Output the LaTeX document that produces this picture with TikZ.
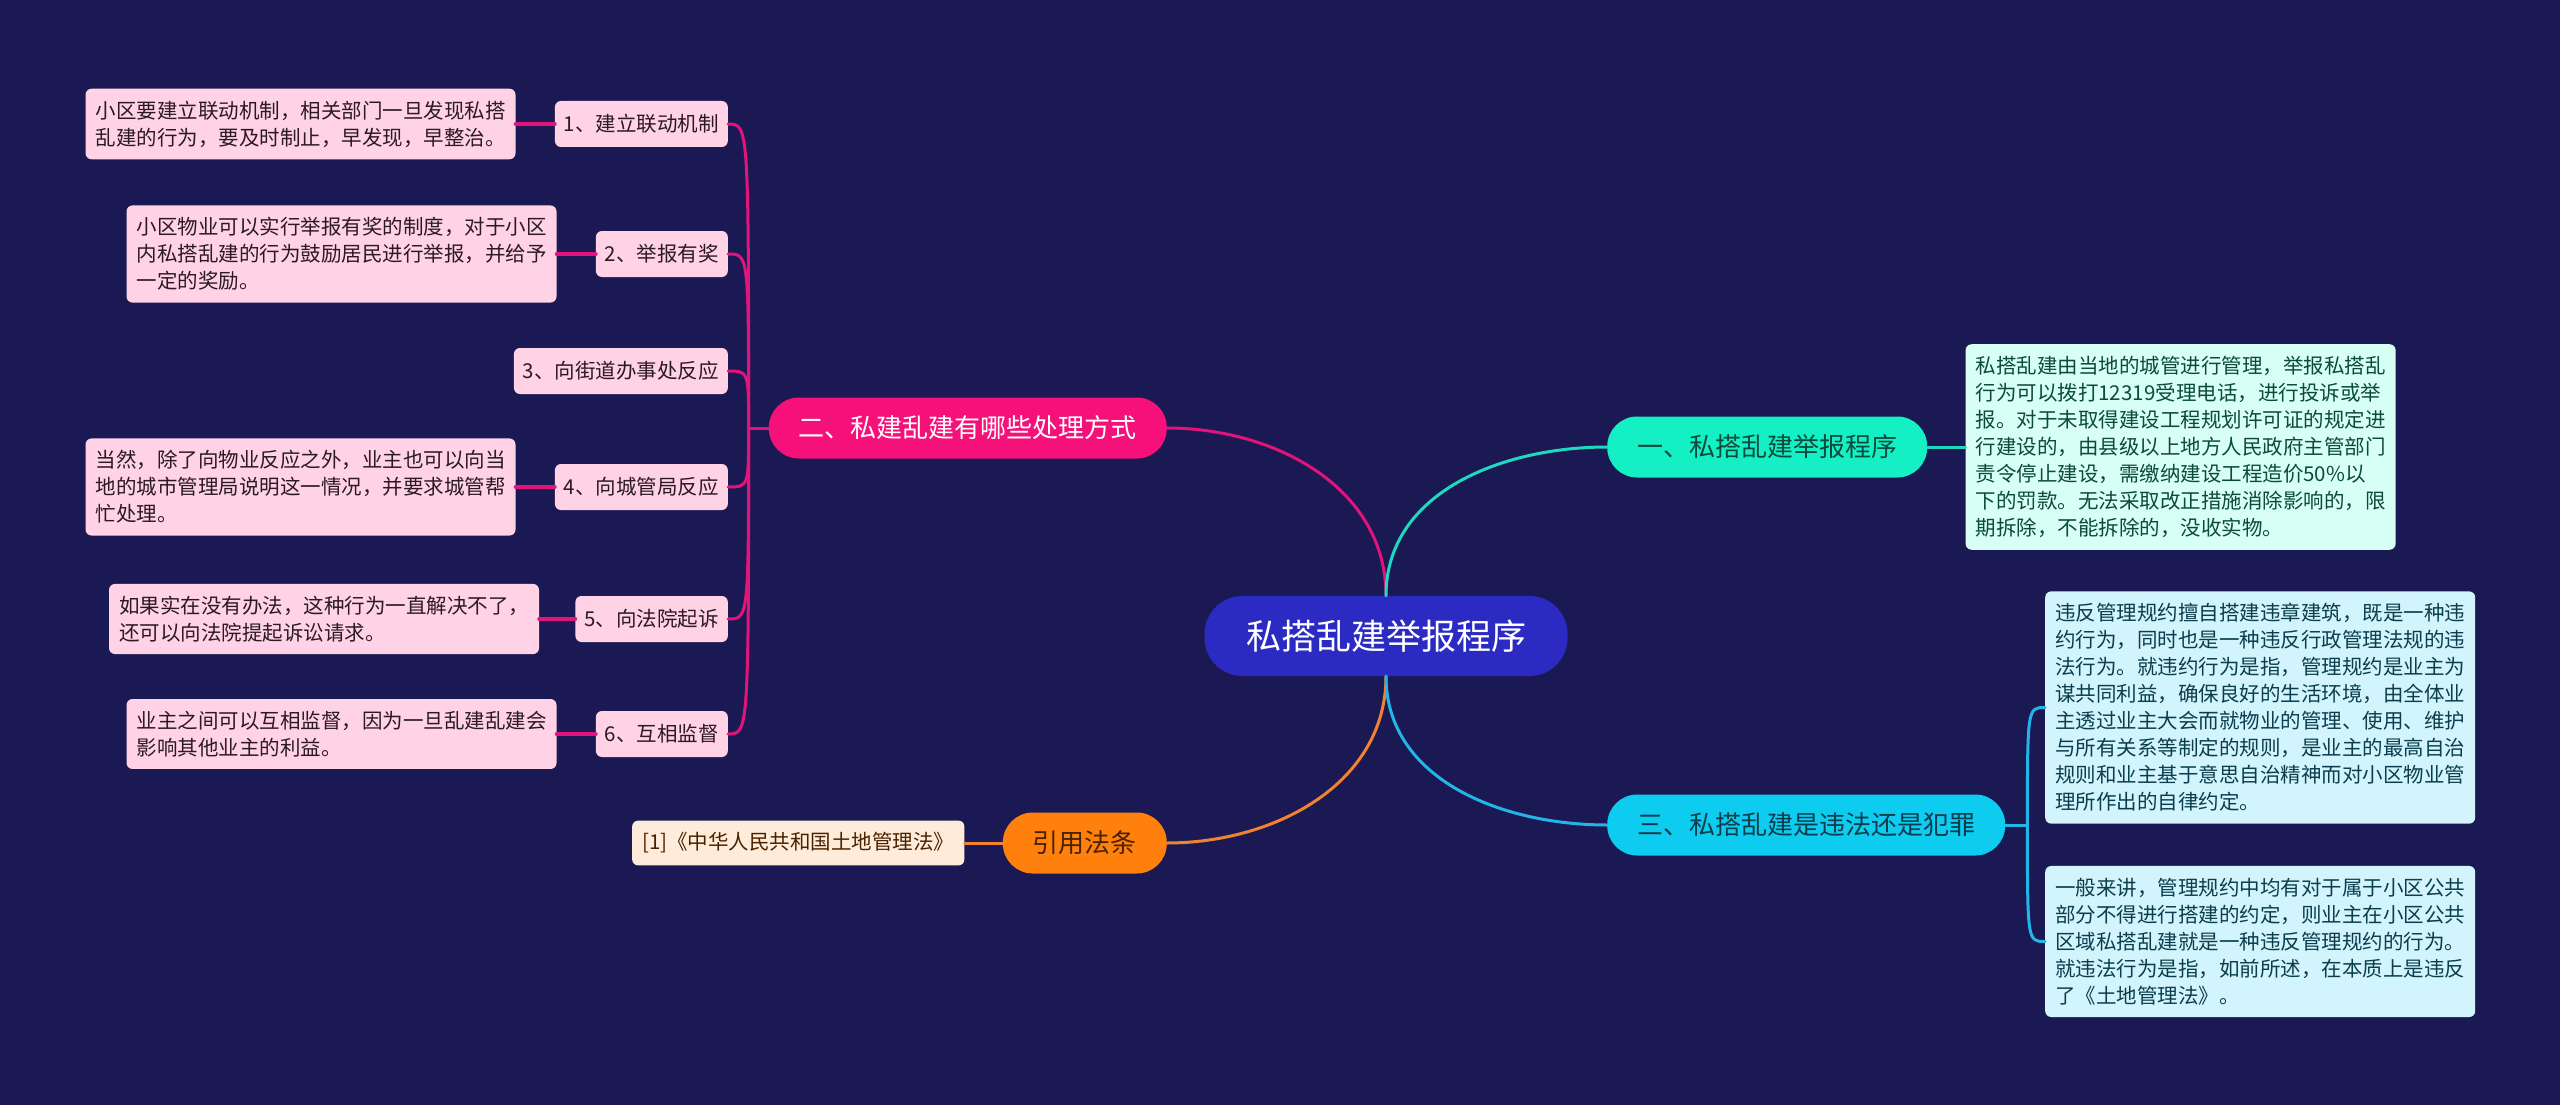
\documentclass[tikz,border=0pt]{standalone}
\usepackage{fontspec}
\setmainfont{Noto Sans CJK SC}
\usetikzlibrary{positioning}
\definecolor{bgc}{HTML}{1A1953}
\definecolor{rootc}{HTML}{2B2BC4}
\definecolor{erc}{HTML}{F5107A}\definecolor{erl}{HTML}{E0147A}\definecolor{erb}{HTML}{FFD3E5}\definecolor{ert}{HTML}{2B1A22}
\definecolor{yic}{HTML}{14F0C4}\definecolor{yil}{HTML}{20D8C0}\definecolor{yib}{HTML}{D7FFF4}\definecolor{yit}{HTML}{0B4A3C}
\definecolor{sanc}{HTML}{0ECCF0}\definecolor{sanl}{HTML}{22B5E5}\definecolor{sanb}{HTML}{D2F4FD}\definecolor{sant}{HTML}{0B3D4D}
\definecolor{yinc}{HTML}{FF800C}\definecolor{yinl}{HTML}{F08232}\definecolor{yinb}{HTML}{FEEBD9}\definecolor{yint}{HTML}{4A2200}
\begin{document}
\begin{tikzpicture}[x=1pt,y=1pt,line cap=round,line join=round,
  lvlone/.style={rounded corners=30pt,minimum height=61pt,inner xsep=30pt,font=\fontsize{26}{30}\selectfont},
  leaf/.style={fill=erb,text=ert,rounded corners=6pt,minimum height=46pt,inner xsep=9pt,font=\fontsize{20.5}{27}\selectfont},
  note/.style={rounded corners=6pt,align=left,inner xsep=10pt,inner ysep=12pt,font=\fontsize{20.5}{27}\selectfont},
  link/.style={line width=3pt}]
\fill[bgc] (0,0) rectangle (2560,-1105);\useasboundingbox (0,0) rectangle (2560,-1105);
\node[fill=rootc,text=white,rounded corners=38pt,minimum width=363pt,minimum height=80pt,font=\fontsize{35}{40}\selectfont] (root) at (1386,-636) {私搭乱建举报程序};
\node[lvlone,fill=yic,text=yit,anchor=west] (yi) at (1607,-447) {一、私搭乱建举报程序};
\node[note,fill=yib,text=yit,right=38pt of yi] (yinote) {私搭乱建由当地的城管进行管理，举报私搭乱\\行为可以拨打12319受理电话，进行投诉或举\\报。对于未取得建设工程规划许可证的规定进\\行建设的，由县级以上地方人民政府主管部门\\责令停止建设，需缴纳建设工程造价50\%以\\下的罚款。无法采取改正措施消除影响的，限\\期拆除，不能拆除的，没收实物。};
\node[lvlone,fill=sanc,text=sant,anchor=west] (san) at (1607,-825) {三、私搭乱建是违法还是犯罪};
\node[note,fill=sanb,text=sant,anchor=west] (sana) at (2045,-707.5) {违反管理规约擅自搭建违章建筑，既是一种违\\约行为，同时也是一种违反行政管理法规的违\\法行为。就违约行为是指，管理规约是业主为\\谋共同利益，确保良好的生活环境，由全体业\\主透过业主大会而就物业的管理、使用、维护\\与所有关系等制定的规则，是业主的最高自治\\规则和业主基于意思自治精神而对小区物业管\\理所作出的自律约定。};
\node[note,fill=sanb,text=sant,anchor=west] (sanb) at (2045,-941.5) {一般来讲，管理规约中均有对于属于小区公共\\部分不得进行搭建的约定，则业主在小区公共\\区域私搭乱建就是一种违反管理规约的行为。\\就违法行为是指，如前所述，在本质上是违反\\了《土地管理法》。};
\node[lvlone,fill=erc,text=white,anchor=east] (er) at (1167,-428) {二、私建乱建有哪些处理方式};
\node[lvlone,fill=yinc,text=yint,anchor=east] (yin) at (1167,-843) {引用法条};
\node[note,fill=yinb,text=yint,left=38pt of yin] (yinnote) {[1]《中华人民共和国土地管理法》};
\node[leaf,anchor=east] (l1) at (728,-124) {1、建立联动机制};
\node[leaf,anchor=east] (l2) at (728,-254) {2、举报有奖};
\node[leaf,anchor=east] (l3) at (728,-371) {3、向街道办事处反应};
\node[leaf,anchor=east] (l4) at (728,-487) {4、向城管局反应};
\node[leaf,anchor=east] (l5) at (728,-619) {5、向法院起诉};
\node[leaf,anchor=east] (l6) at (728,-734) {6、互相监督};
\node[note,fill=erb,text=ert,left=39pt of l1] (n1) {小区要建立联动机制，相关部门一旦发现私搭\\乱建的行为，要及时制止，早发现，早整治。};
\node[note,fill=erb,text=ert,left=39pt of l2] (n2) {小区物业可以实行举报有奖的制度，对于小区\\内私搭乱建的行为鼓励居民进行举报，并给予\\一定的奖励。};
\node[note,fill=erb,text=ert,left=39pt of l4] (n4) {当然，除了向物业反应之外，业主也可以向当\\地的城市管理局说明这一情况，并要求城管帮\\忙处理。};
\node[note,fill=erb,text=ert,left=36pt of l5] (n5) {如果实在没有办法，这种行为一直解决不了，\\还可以向法院提起诉讼请求。};
\node[note,fill=erb,text=ert,left=39pt of l6] (n6) {业主之间可以互相监督，因为一旦乱建乱建会\\影响其他业主的利益。};
\draw[link,erl] (root.north) to[out=90,in=0] (er.east);
\draw[link,yil] (root.north) to[out=90,in=180] (yi.west);
\draw[link,yinl] (root.south) to[out=270,in=0] (yin.east);
\draw[link,sanl] (root.south) to[out=270,in=180] (san.west);
\draw[link,yil] (yi.east) -- (yinote.west);
\draw[link,yinl] (yin.west) -- (yinnote.east);
\draw[link,sanl] (san.east) -- ++(22,0) coordinate (sanbus);
\foreach \b in {sana,sanb} \draw[link,sanl] (sanbus) .. controls (sanbus |- \b.west) .. (\b.west);
\draw[link,erl] (er.west) -- ++(-20,0) coordinate (erbus);
\foreach \l in {l1,l2,l3,l4,l5,l6} \draw[link,erl] (erbus) .. controls (erbus |- \l.east) .. (\l.east);
\foreach \n in {1,2,4,5,6} \draw[link,erl,line width=4pt] (l\n.west) -- (n\n.east);
\end{tikzpicture}
\end{document}
